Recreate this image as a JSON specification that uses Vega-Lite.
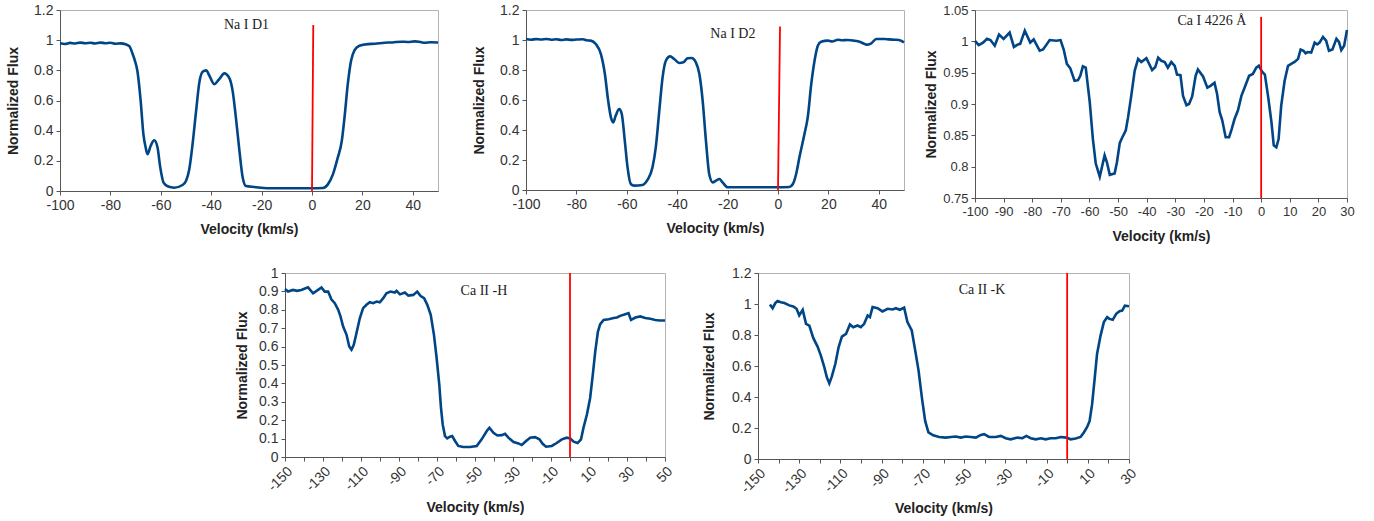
{
  "$schema": "https://vega.github.io/schema/vega-lite/v6.json",
  "padding": {"left": 6, "top": 2, "right": 5, "bottom": 5},
  "background": "white",
  "config": {
    "view": {"stroke": "#b3b3b3", "strokeWidth": 1},
    "axis": {
      "labelFont": "Liberation Sans", "labelFontSize": 14, "labelColor": "#333333",
      "titleFont": "Liberation Sans", "titleFontSize": 14, "titleFontWeight": "bold", "titleColor": "#222222",
      "grid": false, "domainColor": "#555555", "tickColor": "#555555", "tickSize": 4, "labelPadding": 3,
      "labelOverlap": false, "labelFlush": false, "labelBound": false
    },
    "line": {"color": "#004586", "strokeWidth": 2.6},
    "rule": {"color": "#ff0000", "strokeWidth": 1.8},
    "text": {"font": "Liberation Serif", "fontSize": 14, "color": "#222222"}
  },
  "datasets": {
    "d1": [
      {"v":-100,"f":0.979},{"v":-98,"f":0.975},{"v":-96,"f":0.982},{"v":-94,"f":0.978},{"v":-92,"f":0.984},{"v":-90,"f":0.98},{"v":-88,"f":0.983},{"v":-86,"f":0.978},{"v":-84,"f":0.984},{"v":-82,"f":0.98},{"v":-80,"f":0.983},{"v":-78,"f":0.976},{"v":-76,"f":0.979},{"v":-74,"f":0.973},{"v":-72.5,"f":0.96},{"v":-71.2,"f":0.91},{"v":-70.2,"f":0.86},{"v":-69.3,"f":0.797},{"v":-68,"f":0.6},{"v":-66.9,"f":0.376},{"v":-66,"f":0.288},{"v":-65.3,"f":0.244},{"v":-64,"f":0.3},{"v":-62.6,"f":0.336},{"v":-61.3,"f":0.288},{"v":-60.2,"f":0.155},{"v":-58.9,"f":0.055},{"v":-57.3,"f":0.031},{"v":-54.7,"f":0.022},{"v":-51.4,"f":0.04},{"v":-50,"f":0.066},{"v":-48.7,"f":0.144},{"v":-47.4,"f":0.31},{"v":-46,"f":0.53},{"v":-44.7,"f":0.72},{"v":-43.4,"f":0.79},{"v":-42,"f":0.8},{"v":-40.7,"f":0.764},{"v":-38.8,"f":0.708},{"v":-36.8,"f":0.742},{"v":-34.8,"f":0.78},{"v":-32.8,"f":0.748},{"v":-31.5,"f":0.664},{"v":-30.2,"f":0.487},{"v":-28.8,"f":0.266},{"v":-27.5,"f":0.089},{"v":-26.2,"f":0.033},{"v":-22.9,"f":0.027},{"v":-17.6,"f":0.018},{"v":-10,"f":0.018},{"v":0,"f":0.018},{"v":4.3,"f":0.02},{"v":6.3,"f":0.044},{"v":8.3,"f":0.11},{"v":10.2,"f":0.22},{"v":11.8,"f":0.33},{"v":12.9,"f":0.487},{"v":14.2,"f":0.708},{"v":15.5,"f":0.863},{"v":16.9,"f":0.934},{"v":18.8,"f":0.963},{"v":22.2,"f":0.974},{"v":25,"f":0.976},{"v":28.8,"f":0.983},{"v":32,"f":0.985},{"v":35.4,"f":0.99},{"v":38,"f":0.988},{"v":40.7,"f":0.992},{"v":42.5,"f":0.99},{"v":44.7,"f":0.983},{"v":47,"f":0.986},{"v":50,"f":0.985}
    ],
    "d2": [
      {"v":-100,"f":1.007},{"v":-98,"f":1.002},{"v":-96,"f":1.006},{"v":-94,"f":1.003},{"v":-92,"f":1.007},{"v":-90,"f":1.002},{"v":-88,"f":1.005},{"v":-86,"f":1.0},{"v":-84,"f":1.004},{"v":-82,"f":1.001},{"v":-80,"f":1.003},{"v":-77.5,"f":1.005},{"v":-76,"f":0.998},{"v":-74.3,"f":0.996},{"v":-72.3,"f":0.973},{"v":-70.3,"f":0.907},{"v":-68.7,"f":0.773},{"v":-67.4,"f":0.596},{"v":-66.3,"f":0.484},{"v":-65.4,"f":0.451},{"v":-64.4,"f":0.496},{"v":-63,"f":0.54},{"v":-62,"f":0.507},{"v":-60.8,"f":0.329},{"v":-59.7,"f":0.151},{"v":-58.4,"f":0.04},{"v":-57.1,"f":0.029},{"v":-53.8,"f":0.033},{"v":-51.8,"f":0.067},{"v":-49.8,"f":0.151},{"v":-48.5,"f":0.284},{"v":-47.1,"f":0.529},{"v":-45.8,"f":0.751},{"v":-44.5,"f":0.862},{"v":-42.8,"f":0.891},{"v":-41.2,"f":0.873},{"v":-39.2,"f":0.847},{"v":-37.5,"f":0.851},{"v":-35.9,"f":0.878},{"v":-34.3,"f":0.88},{"v":-32.6,"f":0.851},{"v":-31.2,"f":0.773},{"v":-29.9,"f":0.596},{"v":-28.6,"f":0.329},{"v":-27.3,"f":0.107},{"v":-25.9,"f":0.051},{"v":-24.6,"f":0.062},{"v":-23.3,"f":0.073},{"v":-22,"f":0.051},{"v":-20,"f":0.018},{"v":0,"f":0.018},{"v":4.5,"f":0.02},{"v":5.9,"f":0.04},{"v":7.2,"f":0.107},{"v":8.5,"f":0.218},{"v":10.5,"f":0.373},{"v":11.8,"f":0.484},{"v":13.2,"f":0.707},{"v":14.5,"f":0.862},{"v":15.8,"f":0.962},{"v":17.1,"f":0.989},{"v":19.8,"f":0.996},{"v":21.5,"f":0.99},{"v":23.8,"f":1.002},{"v":25.5,"f":0.998},{"v":27.7,"f":1.0},{"v":30,"f":0.996},{"v":31.7,"f":0.991},{"v":33.5,"f":0.98},{"v":35,"f":0.969},{"v":37,"f":0.978},{"v":39,"f":1.007},{"v":42.3,"f":1.007},{"v":44,"f":1.004},{"v":46.3,"f":1.002},{"v":48,"f":1.0},{"v":50,"f":0.984}
    ],
    "d3": [
      {"v":-100,"f":1.0007},{"v":-98.7,"f":0.994},{"v":-97.2,"f":0.998},{"v":-95.8,"f":1.004},{"v":-94.6,"f":1.002},{"v":-93.1,"f":0.993},{"v":-91.6,"f":1.011},{"v":-90,"f":1.004},{"v":-87.9,"f":1.014},{"v":-86.4,"f":0.991},{"v":-85,"f":0.995},{"v":-84.2,"f":0.996},{"v":-82.6,"f":1.017},{"v":-80.7,"f":0.998},{"v":-79.5,"f":1.003},{"v":-77.4,"f":0.985},{"v":-76.2,"f":0.987},{"v":-73.9,"f":1.002},{"v":-71.6,"f":1.001},{"v":-70.1,"f":1.002},{"v":-69,"f":0.987},{"v":-67.9,"f":0.964},{"v":-66.7,"f":0.957},{"v":-65.2,"f":0.937},{"v":-64,"f":0.938},{"v":-63.2,"f":0.945},{"v":-62.3,"f":0.96},{"v":-61.3,"f":0.958},{"v":-59.9,"f":0.903},{"v":-58.8,"f":0.844},{"v":-57.8,"f":0.805},{"v":-56.4,"f":0.784},{"v":-55.5,"f":0.802},{"v":-54.7,"f":0.818},{"v":-53.9,"f":0.807},{"v":-52.9,"f":0.787},{"v":-51.2,"f":0.789},{"v":-50.4,"f":0.807},{"v":-49.4,"f":0.838},{"v":-48.5,"f":0.847},{"v":-47.3,"f":0.858},{"v":-46.5,"f":0.879},{"v":-45.4,"f":0.913},{"v":-44.2,"f":0.953},{"v":-43,"f":0.972},{"v":-41.9,"f":0.967},{"v":-40.1,"f":0.973},{"v":-38.1,"f":0.954},{"v":-37,"f":0.959},{"v":-36,"f":0.974},{"v":-34.9,"f":0.969},{"v":-33.7,"f":0.967},{"v":-32.6,"f":0.958},{"v":-31.4,"f":0.967},{"v":-30.2,"f":0.961},{"v":-29.4,"f":0.947},{"v":-28.2,"f":0.946},{"v":-27.3,"f":0.913},{"v":-26.1,"f":0.898},{"v":-25.2,"f":0.9},{"v":-24.1,"f":0.912},{"v":-22.9,"f":0.945},{"v":-22.1,"f":0.955},{"v":-20.3,"f":0.944},{"v":-18.8,"f":0.926},{"v":-17.7,"f":0.929},{"v":-16.3,"f":0.934},{"v":-15.4,"f":0.916},{"v":-14.5,"f":0.887},{"v":-13.6,"f":0.874},{"v":-12.4,"f":0.847},{"v":-11.2,"f":0.847},{"v":-10.3,"f":0.86},{"v":-9.3,"f":0.876},{"v":-8.1,"f":0.89},{"v":-6.9,"f":0.913},{"v":-5.8,"f":0.926},{"v":-4.2,"f":0.945},{"v":-2.9,"f":0.948},{"v":-1.7,"f":0.958},{"v":-0.8,"f":0.961},{"v":0.4,"f":0.951},{"v":1.3,"f":0.947},{"v":2.4,"f":0.913},{"v":3.6,"f":0.871},{"v":4.4,"f":0.834},{"v":5.3,"f":0.831},{"v":6.1,"f":0.844},{"v":7,"f":0.897},{"v":8.2,"f":0.937},{"v":9.4,"f":0.961},{"v":10.5,"f":0.964},{"v":11.7,"f":0.967},{"v":12.9,"f":0.972},{"v":13.8,"f":0.987},{"v":14.8,"f":0.985},{"v":15.5,"f":0.981},{"v":16.3,"f":0.983},{"v":17.5,"f":0.982},{"v":18.7,"f":0.998},{"v":19.6,"f":0.995},{"v":20.4,"f":0.998},{"v":21.6,"f":1.007},{"v":22.7,"f":1.001},{"v":23.7,"f":0.985},{"v":24.9,"f":0.987},{"v":26.3,"f":1.004},{"v":27.2,"f":0.999},{"v":28,"f":0.986},{"v":29,"f":0.993},{"v":30,"f":1.018}
    ],
    "d4": [
      {"v":-150,"f":0.913},{"v":-148.4,"f":0.899},{"v":-145.8,"f":0.908},{"v":-143.7,"f":0.903},{"v":-141.4,"f":0.908},{"v":-137.9,"f":0.922},{"v":-135.2,"f":0.89},{"v":-132.6,"f":0.908},{"v":-130.8,"f":0.921},{"v":-129.1,"f":0.899},{"v":-127.3,"f":0.899},{"v":-125.6,"f":0.857},{"v":-123.8,"f":0.836},{"v":-122,"f":0.8},{"v":-120.8,"f":0.764},{"v":-119.4,"f":0.709},{"v":-117.6,"f":0.664},{"v":-116.2,"f":0.601},{"v":-115,"f":0.583},{"v":-113.8,"f":0.61},{"v":-112.4,"f":0.673},{"v":-110.6,"f":0.755},{"v":-108.9,"f":0.809},{"v":-107.1,"f":0.827},{"v":-105.4,"f":0.841},{"v":-103.6,"f":0.836},{"v":-101.8,"f":0.845},{"v":-100.1,"f":0.841},{"v":-98.3,"f":0.863},{"v":-96.6,"f":0.89},{"v":-94.5,"f":0.899},{"v":-92.2,"f":0.894},{"v":-91.3,"f":0.903},{"v":-89.5,"f":0.884},{"v":-86.9,"f":0.894},{"v":-85.1,"f":0.877},{"v":-82.5,"f":0.881},{"v":-80.4,"f":0.899},{"v":-78.6,"f":0.875},{"v":-76.8,"f":0.863},{"v":-75.1,"f":0.827},{"v":-73.3,"f":0.773},{"v":-71.6,"f":0.664},{"v":-70.2,"f":0.538},{"v":-68.8,"f":0.394},{"v":-67.9,"f":0.267},{"v":-67,"f":0.177},{"v":-65.8,"f":0.114},{"v":-64.6,"f":0.101},{"v":-63.2,"f":0.11},{"v":-62,"f":0.114},{"v":-60.5,"f":0.087},{"v":-58.8,"f":0.06},{"v":-56.2,"f":0.054},{"v":-52.6,"f":0.054},{"v":-49.1,"f":0.06},{"v":-46.5,"f":0.096},{"v":-43.8,"f":0.141},{"v":-42.4,"f":0.159},{"v":-40.3,"f":0.132},{"v":-38.2,"f":0.117},{"v":-35.9,"f":0.119},{"v":-34.2,"f":0.126},{"v":-32.4,"f":0.105},{"v":-29.7,"f":0.081},{"v":-27.1,"f":0.074},{"v":-25.4,"f":0.065},{"v":-23.1,"f":0.087},{"v":-21,"f":0.105},{"v":-18.4,"f":0.108},{"v":-16.1,"f":0.096},{"v":-14.4,"f":0.072},{"v":-12.6,"f":0.056},{"v":-9.6,"f":0.06},{"v":-7,"f":0.076},{"v":-4.3,"f":0.096},{"v":-1.7,"f":0.105},{"v":0.1,"f":0.101},{"v":1.9,"f":0.083},{"v":4,"f":0.076},{"v":5.8,"f":0.096},{"v":7.1,"f":0.159},{"v":8.9,"f":0.231},{"v":10.6,"f":0.321},{"v":12,"f":0.448},{"v":13.3,"f":0.574},{"v":14.7,"f":0.682},{"v":15.9,"f":0.722},{"v":17.7,"f":0.745},{"v":20.3,"f":0.749},{"v":23,"f":0.755},{"v":24.7,"f":0.758},{"v":26.4,"f":0.767},{"v":29.1,"f":0.776},{"v":30.8,"f":0.782},{"v":32.1,"f":0.745},{"v":34.4,"f":0.758},{"v":37,"f":0.764},{"v":39.6,"f":0.755},{"v":42.3,"f":0.751},{"v":44.9,"f":0.745},{"v":47.2,"f":0.742},{"v":50,"f":0.742}
    ],
    "d5": [
      {"v":-144.2,"f":0.997},{"v":-142.9,"f":0.973},{"v":-141.6,"f":1.006},{"v":-140.5,"f":1.019},{"v":-138.9,"f":1.012},{"v":-137.2,"f":1.006},{"v":-134.8,"f":0.991},{"v":-132.9,"f":0.984},{"v":-131.3,"f":0.969},{"v":-130,"f":0.926},{"v":-128.3,"f":0.962},{"v":-126.7,"f":0.872},{"v":-125.1,"f":0.861},{"v":-123.2,"f":0.781},{"v":-121.1,"f":0.725},{"v":-119.5,"f":0.667},{"v":-117.8,"f":0.591},{"v":-116.6,"f":0.527},{"v":-115.4,"f":0.488},{"v":-114.2,"f":0.531},{"v":-112.5,"f":0.613},{"v":-110.9,"f":0.721},{"v":-109.3,"f":0.79},{"v":-107.3,"f":0.807},{"v":-105.4,"f":0.868},{"v":-103.8,"f":0.85},{"v":-101.7,"f":0.861},{"v":-100.1,"f":0.85},{"v":-98.5,"f":0.872},{"v":-96.8,"f":0.926},{"v":-95.7,"f":0.915},{"v":-94.4,"f":0.98},{"v":-92,"f":0.973},{"v":-89.6,"f":0.952},{"v":-87.1,"f":0.969},{"v":-84.7,"f":0.965},{"v":-83.1,"f":0.973},{"v":-81.2,"f":0.963},{"v":-79.1,"f":0.976},{"v":-77.5,"f":0.883},{"v":-75.4,"f":0.829},{"v":-73.7,"f":0.699},{"v":-72.1,"f":0.57},{"v":-70.5,"f":0.397},{"v":-68.9,"f":0.246},{"v":-67.3,"f":0.171},{"v":-65,"f":0.153},{"v":-62.1,"f":0.142},{"v":-58.9,"f":0.138},{"v":-56.4,"f":0.142},{"v":-54,"f":0.145},{"v":-51.6,"f":0.138},{"v":-49.2,"f":0.145},{"v":-46.8,"f":0.142},{"v":-44.3,"f":0.138},{"v":-41.9,"f":0.155},{"v":-40.3,"f":0.16},{"v":-37.9,"f":0.142},{"v":-34.6,"f":0.142},{"v":-32.2,"f":0.149},{"v":-29.8,"f":0.134},{"v":-27.4,"f":0.127},{"v":-24.1,"f":0.138},{"v":-21.7,"f":0.134},{"v":-19.8,"f":0.149},{"v":-17.7,"f":0.134},{"v":-15.2,"f":0.127},{"v":-12.8,"f":0.134},{"v":-10.4,"f":0.127},{"v":-8,"f":0.134},{"v":-5.5,"f":0.134},{"v":-3.1,"f":0.142},{"v":-0.4,"f":0.138},{"v":1.7,"f":0.127},{"v":4.1,"f":0.132},{"v":6.5,"f":0.142},{"v":8.1,"f":0.171},{"v":9.7,"f":0.207},{"v":10.9,"f":0.246},{"v":12.1,"f":0.354},{"v":13.4,"f":0.527},{"v":14.5,"f":0.678},{"v":16.2,"f":0.796},{"v":17.8,"f":0.883},{"v":19.4,"f":0.915},{"v":20.5,"f":0.904},{"v":22.1,"f":0.898},{"v":23.8,"f":0.937},{"v":25.4,"f":0.954},{"v":26.7,"f":0.958},{"v":28,"f":0.989},{"v":30,"f":0.985}
    ],
    "marks": [
      {"p":"p1","v":0,"v2":0.5,"f":0,"f2":1.1},
      {"p":"p2","v":0,"v2":0.8,"f":0,"f2":1.09},
      {"p":"p3","v":0,"v2":0,"f":0.75,"f2":1.039},
      {"p":"p4","v":0,"v2":0,"f":0,"f2":1},
      {"p":"p5","v":0,"v2":0,"f":0,"f2":1.2}
    ],
    "labels": [
      {"p":"p1","v":-26,"f":1.1,"label":"Na I D1"},
      {"p":"p2","v":-17.9,"f":1.04,"label":"Na I D2"},
      {"p":"p3","v":-17.2,"f":1.032,"label":"Ca I 4226 Å"},
      {"p":"p4","v":-45.3,"f":0.9,"label":"Ca II -H"},
      {"p":"p5","v":-41.3,"f":1.09,"label":"Ca II -K"}
    ]
  },
  "vconcat": [
    {
      "hconcat": [
        {
          "hconcat": [
            {
              "width": 378, "height": 181,
              "layer": [
                {"data": {"name": "d1"}, "mark": {"type": "line", "interpolate": "monotone"},
                 "encoding": {
                   "x": {"field": "v", "type": "quantitative", "scale": {"domain": [-100, 50], "nice": false, "zero": false},
                         "axis": {"title": "Velocity (km/s)", "values": [-100,-80,-60,-40,-20,0,20,40], "tickCount": 100, "labelExpr": "'' + datum.value", "titlePadding": 10, "labelOverlap": false}},
                   "y": {"field": "f", "type": "quantitative", "scale": {"domain": [0, 1.2], "nice": false, "zero": false},
                         "axis": {"title": "Normalized Flux", "values": [0,0.2,0.4,0.6,0.8,1,1.2], "tickCount": 100, "labelExpr": "'' + datum.value", "titlePadding": 13, "labelOverlap": false}}
                 }},
                {"data": {"name": "marks"}, "transform": [{"filter": "datum.p == 'p1'"}], "mark": "rule",
                 "encoding": {"x": {"field": "v", "type": "quantitative"}, "x2": {"field": "v2"}, "y": {"field": "f", "type": "quantitative"}, "y2": {"field": "f2"}}},
                {"data": {"name": "labels"}, "transform": [{"filter": "datum.p == 'p1'"}], "mark": "text",
                 "encoding": {"x": {"field": "v", "type": "quantitative"}, "y": {"field": "f", "type": "quantitative"}, "text": {"field": "label"}}}
              ]
            },
            {
              "width": 378, "height": 180,
              "layer": [
                {"data": {"name": "d2"}, "mark": {"type": "line", "interpolate": "monotone"},
                 "encoding": {
                   "x": {"field": "v", "type": "quantitative", "scale": {"domain": [-100, 50], "nice": false, "zero": false},
                         "axis": {"title": "Velocity (km/s)", "values": [-100,-80,-60,-40,-20,0,20,40], "tickCount": 100, "labelExpr": "'' + datum.value", "titlePadding": 10, "labelOverlap": false}},
                   "y": {"field": "f", "type": "quantitative", "scale": {"domain": [0, 1.2], "nice": false, "zero": false},
                         "axis": {"title": "Normalized Flux", "values": [0,0.2,0.4,0.6,0.8,1,1.2], "tickCount": 100, "labelExpr": "'' + datum.value", "titlePadding": 13, "labelOverlap": false}}
                 }},
                {"data": {"name": "marks"}, "transform": [{"filter": "datum.p == 'p2'"}], "mark": "rule",
                 "encoding": {"x": {"field": "v", "type": "quantitative"}, "x2": {"field": "v2"}, "y": {"field": "f", "type": "quantitative"}, "y2": {"field": "f2"}}},
                {"data": {"name": "labels"}, "transform": [{"filter": "datum.p == 'p2'"}], "mark": "text",
                 "encoding": {"x": {"field": "v", "type": "quantitative"}, "y": {"field": "f", "type": "quantitative"}, "text": {"field": "label"}}}
              ]
            }
          ],
          "spacing": 28
        },
        {
          "width": 372, "height": 188,
          "layer": [
            {"data": {"name": "d3"}, "mark": {"type": "line"},
             "encoding": {
               "x": {"field": "v", "type": "quantitative", "scale": {"domain": [-100, 30], "nice": false, "zero": false},
                     "axis": {"title": "Velocity (km/s)", "values": [-100,-90,-80,-70,-60,-50,-40,-30,-20,-10,0,10,20,30], "tickCount": 100, "labelExpr": "'' + datum.value", "labelFontSize": 13, "titlePadding": 11, "labelOverlap": false}},
               "y": {"field": "f", "type": "quantitative", "scale": {"domain": [0.75, 1.05], "nice": false, "zero": false},
                     "axis": {"title": "Normalized Flux", "values": [0.75,0.8,0.85,0.9,0.95,1,1.05], "tickCount": 100, "labelExpr": "'' + datum.value", "labelFontSize": 13, "titlePadding": 4, "labelOverlap": false}}
             }},
            {"data": {"name": "marks"}, "transform": [{"filter": "datum.p == 'p3'"}], "mark": "rule",
             "encoding": {"x": {"field": "v", "type": "quantitative"}, "x2": {"field": "v2"}, "y": {"field": "f", "type": "quantitative"}, "y2": {"field": "f2"}}},
            {"data": {"name": "labels"}, "transform": [{"filter": "datum.p == 'p3'"}], "mark": "text",
             "encoding": {"x": {"field": "v", "type": "quantitative"}, "y": {"field": "f", "type": "quantitative"}, "text": {"field": "label"}}}
          ]
        }
      ],
      "spacing": 14
    },
    {
      "hconcat": [
        {
          "width": 175, "height": 10,
          "view": {"stroke": null, "fill": null},
          "data": {"values": []},
          "mark": {"type": "point", "opacity": 0},
          "encoding": {}
        },
        {
          "hconcat": [
            {
              "width": 380, "height": 184,
              "layer": [
                {"data": {"name": "d4"}, "mark": {"type": "line"},
                 "encoding": {
                   "x": {"field": "v", "type": "quantitative", "scale": {"domain": [-150, 50], "nice": false, "zero": false},
                         "axis": {"title": "Velocity (km/s)", "values": [-150,-140,-130,-120,-110,-100,-90,-80,-70,-60,-50,-40,-30,-20,-10,0,10,20,30,40,50], "tickCount": 100, "labelExpr": "(datum.value + 150) % 20 == 0 ? '' + datum.value : ''", "labelAngle": -45, "titlePadding": 7, "labelOverlap": false}},
                   "y": {"field": "f", "type": "quantitative", "scale": {"domain": [0, 1], "nice": false, "zero": false},
                         "axis": {"title": "Normalized Flux", "values": [0,0.1,0.2,0.3,0.4,0.5,0.6,0.7,0.8,0.9,1], "tickCount": 100, "labelExpr": "'' + datum.value", "titlePadding": 9, "labelOverlap": false}}
                 }},
                {"data": {"name": "marks"}, "transform": [{"filter": "datum.p == 'p4'"}], "mark": "rule",
                 "encoding": {"x": {"field": "v", "type": "quantitative"}, "x2": {"field": "v2"}, "y": {"field": "f", "type": "quantitative"}, "y2": {"field": "f2"}}},
                {"data": {"name": "labels"}, "transform": [{"filter": "datum.p == 'p4'"}], "mark": "text",
                 "encoding": {"x": {"field": "v", "type": "quantitative"}, "y": {"field": "f", "type": "quantitative"}, "text": {"field": "label"}}}
              ]
            },
            {
              "width": 371, "height": 186,
              "layer": [
                {"data": {"name": "d5"}, "mark": {"type": "line"},
                 "encoding": {
                   "x": {"field": "v", "type": "quantitative", "scale": {"domain": [-150, 30], "nice": false, "zero": false},
                         "axis": {"title": "Velocity (km/s)", "values": [-150,-140,-130,-120,-110,-100,-90,-80,-70,-60,-50,-40,-30,-20,-10,0,10,20,30], "tickCount": 100, "labelExpr": "(datum.value + 150) % 20 == 0 ? '' + datum.value : ''", "labelAngle": -45, "titlePadding": 6, "labelOverlap": false}},
                   "y": {"field": "f", "type": "quantitative", "scale": {"domain": [0, 1.2], "nice": false, "zero": false},
                         "axis": {"title": "Normalized Flux", "values": [0,0.2,0.4,0.6,0.8,1,1.2], "tickCount": 100, "labelExpr": "'' + datum.value", "titlePadding": 15, "labelOverlap": false}}
                 }},
                {"data": {"name": "marks"}, "transform": [{"filter": "datum.p == 'p5'"}], "mark": "rule",
                 "encoding": {"x": {"field": "v", "type": "quantitative"}, "x2": {"field": "v2"}, "y": {"field": "f", "type": "quantitative"}, "y2": {"field": "f2"}}},
                {"data": {"name": "labels"}, "transform": [{"filter": "datum.p == 'p5'"}], "mark": "text",
                 "encoding": {"x": {"field": "v", "type": "quantitative"}, "y": {"field": "f", "type": "quantitative"}, "text": {"field": "label"}}}
              ]
            }
          ],
          "spacing": 26
        }
      ],
      "spacing": 0
    }
  ],
  "spacing": 21
}
